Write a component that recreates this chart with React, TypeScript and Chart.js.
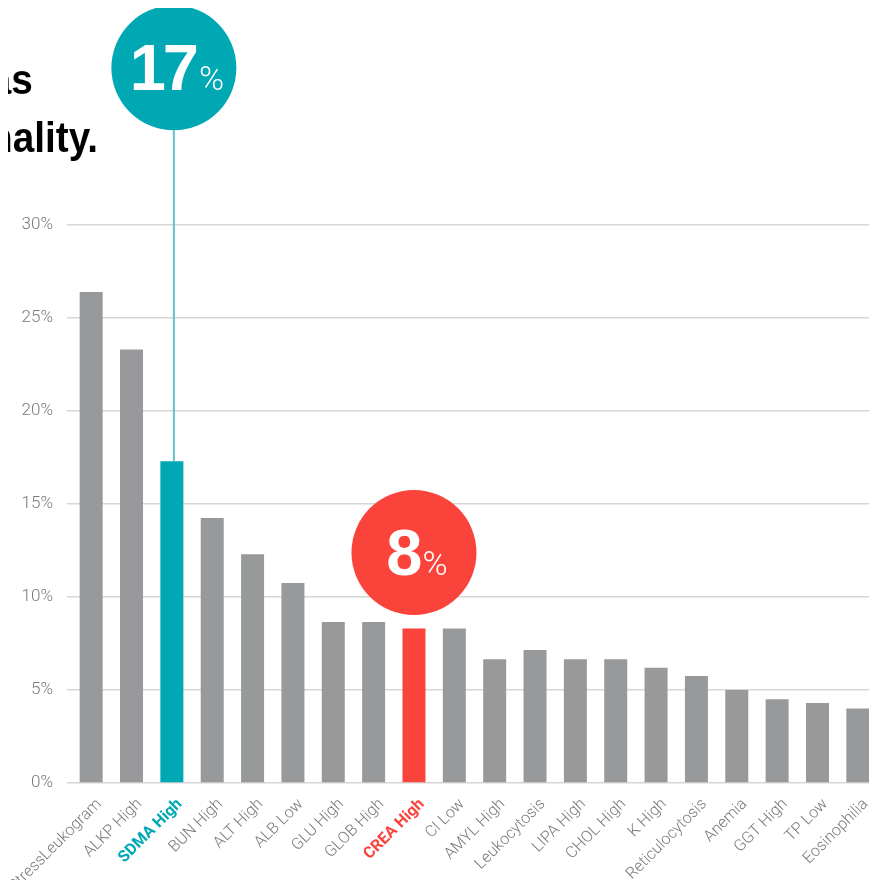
import React, { useEffect, useRef } from "react";
import { Chart, registerables } from "chart.js";

Chart.register(...registerables);

const categories = [
  "StressLeukogram", "ALKP High", "SDMA High", "BUN High", "ALT High", "ALB Low",
  "GLU High", "GLOB High", "CREA High", "CI Low", "AMYL High", "Leukocytosis",
  "LIPA High", "CHOL High", "K High", "Reticulocytosis", "Anemia", "GGT High",
  "TP Low", "Eosinophilia",
];
const values = [
  26.4, 23.3, 17.3, 14.25, 12.3, 10.75, 8.65, 8.65, 8.3, 8.3,
  6.65, 7.15, 6.65, 6.65, 6.2, 5.75, 5.0, 4.5, 4.3, 4.0,
];
const yTicks = [0, 5, 10, 15, 20, 25, 30];

// callouts (bubbles)
const calloutCategory = ["SDMA High", "CREA High"];
const calloutNumber = ["17", "8"];
const calloutCenterValue = [38.45, 12.39];
const calloutConnector = [true, false];

const titleLines = ["as", "nality."];

const GRAY = "#98999b";
const TEAL = "#00a8b4";
const RED = "#fa433b";
const TEAL_LINE = "#5fc3ca";
const TICK_GRAY = "#7a7a7a";
const TICK_FAMILY = "Roboto, 'Liberation Sans', sans-serif";

const highlightColor = (c: string) =>
  c === "SDMA High" ? TEAL : c === "CREA High" ? RED : null;

const barColors = categories.map((c) => highlightColor(c) || GRAY);
const labelColors = categories.map((c) => highlightColor(c) || TICK_GRAY);

const calloutPlugin = {
  id: "callouts",
  afterDatasetsDraw(chart: any) {
    const { ctx } = chart;
    const xs = chart.scales.x;
    const ys = chart.scales.y;
    calloutCategory.forEach((cat, i) => {
      const idx = categories.indexOf(cat);
      const color = highlightColor(cat) || GRAY;
      const cx = xs.getPixelForValue(idx) + (calloutConnector[i] ? 2 : 0);
      const cy = ys.getPixelForValue(calloutCenterValue[i]);
      const r = 62.5;
      ctx.save();
      if (calloutConnector[i]) {
        ctx.strokeStyle = TEAL_LINE;
        ctx.lineWidth = 2;
        ctx.beginPath();
        ctx.moveTo(cx, cy + r);
        ctx.lineTo(cx, ys.getPixelForValue(values[idx]));
        ctx.stroke();
      }
      ctx.fillStyle = color;
      ctx.beginPath();
      ctx.arc(cx, cy, r, 0, Math.PI * 2);
      ctx.fill();
      ctx.fillStyle = "#ffffff";
      ctx.textBaseline = "alphabetic";
      ctx.textAlign = "left";
      const bigFont = "bold 65px 'Liberation Sans', Arial, sans-serif";
      const smallFont = "300 34px Roboto, 'Liberation Sans', sans-serif";
      ctx.font = bigFont;
      (ctx as any).letterSpacing = "-3px";
      const wBig = ctx.measureText(calloutNumber[i]).width;
      (ctx as any).letterSpacing = "0px";
      ctx.font = smallFont;
      const wSmall = ctx.measureText("%").width;
      const gap = 3;
      const start = cx + 3 - (wBig + gap + wSmall) / 2;
      const base = cy + 22;
      ctx.font = bigFont;
      (ctx as any).letterSpacing = "-3px";
      ctx.fillText(calloutNumber[i], start, base);
      (ctx as any).letterSpacing = "0px";
      ctx.font = smallFont;
      ctx.fillText("%", start + wBig + gap, base);
      ctx.restore();
    });
  },
};

export default function App() {
  const ref = useRef<HTMLCanvasElement | null>(null);

  useEffect(() => {
    if (!ref.current) return;
    const chart = new Chart(ref.current, {
      type: "bar",
      data: {
        labels: categories,
        datasets: [
          {
            data: values,
            backgroundColor: barColors,
            borderWidth: 0,
            barPercentage: 0.57,
            categoryPercentage: 1,
          },
        ],
      },
      options: {
        animation: false,
        responsive: false,
        devicePixelRatio: 1,
        layout: { padding: { top: 225, left: 0, right: 0, bottom: 0 } },
        plugins: {
          legend: { display: false },
          tooltip: { enabled: false },
        },
        scales: {
          x: {
            offset: true,
            grid: { display: false },
            border: { display: false },
            afterFit: (scale: any) => {
              scale.height = 105;
              scale.paddingLeft = 0;
              scale.paddingRight = 0;
            },
            ticks: {
              autoSkip: false,
              minRotation: 45,
              maxRotation: 45,
              padding: 4,
              labelOffset: 8,
              color: (c: any) => labelColors[c.index],
              font: (c: any) => ({
                family: TICK_FAMILY,
                size: 16,
                weight: highlightColor(categories[c.index]) ? "bold" : 300,
              }),
            },
          },
          y: {
            min: 0,
            max: 30,
            afterFit: (scale: any) => {
              scale.width = 71;
            },
            afterBuildTicks: (scale: any) => {
              scale.ticks = yTicks.map((v) => ({ value: v }));
            },
            grid: {
              color: "#d6d6d6",
              lineWidth: 1.5,
              drawTicks: true,
              tickLength: 4,
            },
            border: { display: false },
            ticks: {
              padding: 14,
              color: TICK_GRAY,
              font: { family: TICK_FAMILY, size: 17, weight: 300 },
              callback: (v: any) => v + "%",
            },
          },
        },
      },
      plugins: [calloutPlugin],
    } as any);
    return () => chart.destroy();
  }, []);

  const titleStyle = (top: number, rightEdge: number): React.CSSProperties => ({
    position: "absolute",
    top,
    right: 869 - rightEdge,
    whiteSpace: "nowrap",
    fontFamily: "'Liberation Sans', Arial, sans-serif",
    fontWeight: "bold",
    fontSize: 43,
    lineHeight: "43px",
    color: "#000",
    transform: "scaleX(0.9)",
    transformOrigin: "right center",
  });

  return (
    <div
      style={{
        position: "relative",
        width: 869,
        height: 888,
        margin: -8,
        overflow: "hidden",
        background: "#fff",
      }}
    >
      <canvas
        ref={ref}
        width={878}
        height={888}
        style={{ position: "absolute", left: 0, top: 0, width: 878, height: 888 }}
      />
      <div style={titleStyle(58, 33)}>{titleLines[0]}</div>
      <div style={titleStyle(116, 98)}>{titleLines[1]}</div>
    </div>
  );
}
